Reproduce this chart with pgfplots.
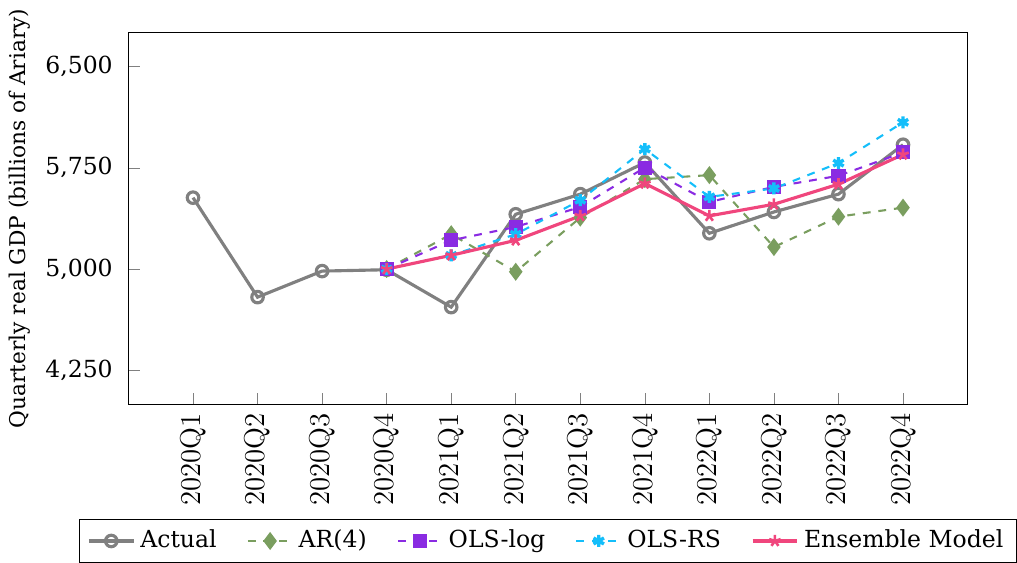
\documentclass[border=0pt]{standalone}
\usepackage{fontspec}
\setmainfont{DejaVu Serif}
\usepackage{pgfplots}
\pgfplotsset{compat=1.18}
\definecolor{cActual}{RGB}{128,128,128}
\definecolor{cAR}{RGB}{122,158,95}
\definecolor{cLog}{RGB}{138,43,226}
\definecolor{cRS}{RGB}{20,190,250}
\definecolor{cEns}{RGB}{240,70,125}
\begin{document}
\begin{tikzpicture}
\begin{axis}[
  scale only axis,
  width=321pt, height=142pt,
  xmin=-1, xmax=12,
  ymin=4000, ymax=6750,
  xtick={0,...,11},
  xticklabels={2020Q1,2020Q2,2020Q3,2020Q4,2021Q1,2021Q2,2021Q3,2021Q4,2022Q1,2022Q2,2022Q3,2022Q4},
  xticklabel style={rotate=90, anchor=east, font=\fontfamily{lmr}\selectfont\fontsize{11}{12}\selectfont},
  ytick={4250,5000,5750,6500},
  yticklabel style={font=\fontsize{9}{10}\selectfont, xshift=-2.5pt},
  /pgf/number format/assume math mode=true,
  /pgf/number format/1000 sep={,},
  xtick pos=bottom, ytick pos=left,
  tick style={color=gray},
  ylabel={Quarterly real GDP (billions of Ariary)},
  ylabel style={font=\fontsize{8.3}{9}\selectfont, yshift=-1pt},
  legend style={at={(0.5,-0.31)}, anchor=north, legend columns=5,
    font=\fontsize{9}{10}\selectfont, draw=black,
    /tikz/every even column/.append style={column sep=9.5pt}},
]
\addplot[color=cActual, line width=1.2pt, mark=o, mark size=2.2pt, mark options={solid, line width=1.2pt}]
coordinates {(0,5529) (1,4792) (2,4985) (3,4995) (4,4718) (5,5406) (6,5555) (7,5789) (8,5265) (9,5423) (10,5555) (11,5921)};
\addlegendentry{Actual}
\addplot[color=cAR, dashed, line width=0.8pt, mark=diamond*, mark size=2.8pt, mark options={solid}]
coordinates {(3,5000) (4,5258) (5,4980) (6,5381) (7,5666) (8,5696) (9,5163) (10,5388) (11,5455)};
\addlegendentry{AR(4)}
\addplot[color=cLog, dashed, line width=0.8pt, mark=square*, mark size=2.3pt, mark options={solid}]
coordinates {(3,5000) (4,5213) (5,5312) (6,5460) (7,5752) (8,5497) (9,5609) (10,5691) (11,5864)};
\addlegendentry{OLS-log}
\addplot[color=cRS, dashed, line width=0.8pt, mark=asterisk, mark size=2.3pt, mark options={solid, line width=1.3pt}]
coordinates {(3,5000) (4,5102) (5,5258) (6,5510) (7,5889) (8,5535) (9,5597) (10,5785) (11,6087)};
\addlegendentry{OLS-RS}
\addplot[color=cEns, line width=1.2pt, mark=star, mark size=2.3pt, mark options={solid, line width=1.0pt}]
coordinates {(3,5000) (4,5102) (5,5213) (6,5394) (7,5634) (8,5394) (9,5480) (10,5629) (11,5849)};
\addlegendentry{Ensemble Model}
\end{axis}
\end{tikzpicture}
\end{document}
